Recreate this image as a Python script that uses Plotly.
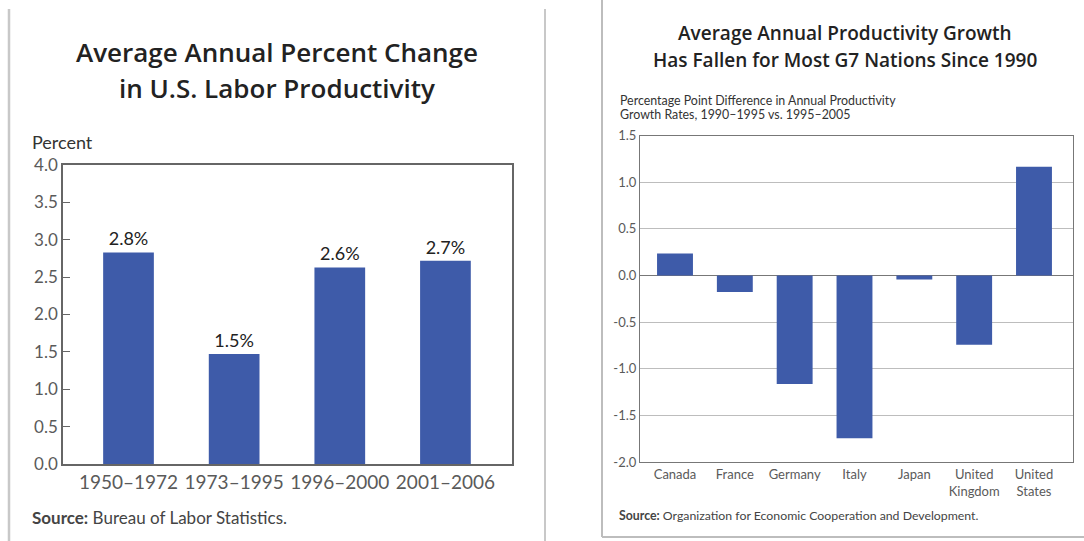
import plotly.graph_objects as go

# ---- Left chart data ----
periods = ["1950–1972", "1973–1995", "1996–2000", "2001–2006"]
us_productivity = [2.83, 1.47, 2.63, 2.72]
us_labels = ["2.8%", "1.5%", "2.6%", "2.7%"]
left_yticks = [0.0, 0.5, 1.0, 1.5, 2.0, 2.5, 3.0, 3.5, 4.0]

# ---- Right chart data ----
countries = ["Canada", "France", "Germany", "Italy", "Japan", "United<br>Kingdom", "United<br>States"]
growth_diff = [0.235, -0.178, -1.163, -1.745, -0.043, -0.742, 1.167]
right_yticks = [-2.0, -1.5, -1.0, -0.5, 0.0, 0.5, 1.0, 1.5]

W, H = 1084, 541
BAR = "#3e5ba9"
GRAY = "#5a5a5a"
FONT = "Lato"


def px(x):
    return x / W


def py(y):
    return 1 - y / H


fig = go.Figure()

fig.add_trace(go.Bar(
    x=list(range(len(periods))), y=us_productivity, width=0.48,
    marker=dict(color=BAR, line=dict(width=0)),
    text=us_labels, textposition="outside", cliponaxis=False,
    textfont=dict(family=FONT, size=18, color="#222"),
    xaxis="x", yaxis="y", showlegend=False, hoverinfo="skip"))

fig.add_trace(go.Bar(
    x=list(range(len(countries))), y=growth_diff, width=0.6,
    marker=dict(color=BAR, line=dict(width=0)),
    xaxis="x2", yaxis="y2", showlegend=False, hoverinfo="skip"))

fig.update_layout(
    template="none",
    width=W, height=H, margin=dict(l=0, r=0, t=0, b=0, pad=0),
    paper_bgcolor="white", plot_bgcolor="white",
    font=dict(family=FONT, color=GRAY),
    xaxis=dict(domain=[px(63), px(512)], anchor="y", range=[-0.62, 3.63],
               automargin=False,
               tickvals=list(range(len(periods))), ticktext=periods,
               showline=True, linecolor="#666", linewidth=1.5, mirror=True,
               ticks="", showgrid=False, zeroline=False,
               tickfont=dict(family=FONT, size=19, color=GRAY)),
    yaxis=dict(domain=[py(464), py(165)], anchor="x", range=[0, 4.0],
               automargin=False,
               tickvals=left_yticks, ticktext=[f"{v:.1f}" for v in left_yticks],
               showline=True, linecolor="#666", linewidth=1.5, mirror=True,
               ticks="inside", ticklen=7, tickcolor="#666", tickwidth=1,
               showgrid=False, zeroline=False,
               tickfont=dict(family=FONT, size=17, color=GRAY)),
    xaxis2=dict(domain=[px(640), px(1073)], anchor="y2", range=[-0.585, 6.652],
                automargin=False,
                tickvals=list(range(len(countries))), ticktext=countries,
                showline=True, linecolor="#777", linewidth=1.2, mirror=True,
                ticks="", showgrid=False, zeroline=False,
                tickfont=dict(family=FONT, size=13, color=GRAY)),
    yaxis2=dict(domain=[py(462), py(135.6)], anchor="x2", range=[-2.0, 1.5],
                automargin=False,
                tickvals=right_yticks, ticktext=[f"{v:.1f}" for v in right_yticks],
                showline=True, linecolor="#777", linewidth=1.2, mirror=True,
                ticks="", showgrid=True, gridcolor="#bdbdbd", gridwidth=1,
                zeroline=True, zerolinecolor="#777", zerolinewidth=1.2,
                tickfont=dict(family=FONT, size=13, color=GRAY)),
)

ann = []
# Left title
ann.append(dict(text="Average Annual Percent Change", x=px(277), y=py(52),
                font=dict(family="Open Sans", size=26, color="#222", weight=600)))
ann.append(dict(text="in U.S. Labor Productivity", x=px(277), y=py(88),
                font=dict(family="Open Sans", size=26, color="#222", weight=600)))
ann.append(dict(text="Percent", x=px(30), y=py(142), xanchor="left",
                font=dict(family=FONT, size=18, color="#333")))
ann.append(dict(text="<b>Source:</b> Bureau of Labor Statistics.", x=px(30), y=py(517),
                xanchor="left", font=dict(family=FONT, size=17, color="#444")))
# Right title
ann.append(dict(text="Average Annual Productivity Growth", x=px(845), y=py(33),
                font=dict(family="Open Sans", size=19, color="#222", weight=600)))
ann.append(dict(text="Has Fallen for Most G7 Nations Since 1990", x=px(845), y=py(60),
                font=dict(family="Open Sans", size=19, color="#222", weight=600)))
ann.append(dict(text="Percentage Point Difference in Annual Productivity", x=px(618), y=py(100),
                xanchor="left", font=dict(family=FONT, size=12.4, color="#333")))
ann.append(dict(text="Growth Rates, 1990–1995 vs. 1995–2005", x=px(618), y=py(114),
                xanchor="left", font=dict(family=FONT, size=12.4, color="#333")))
ann.append(dict(text="<b>Source:</b> Organization for Economic Cooperation and Development.",
                x=px(617), y=py(515), xanchor="left",
                font=dict(family=FONT, size=12.3, color="#444")))
for a in ann:
    a.setdefault("xanchor", "center")
    a.update(xref="paper", yref="paper", yanchor="middle", showarrow=False)
fig.update_layout(annotations=ann)

# Panel border lines
shapes = [
    dict(type="line", x0=px(9), x1=px(9), y0=py(9), y1=py(541),
         line=dict(color="#c8c8c8", width=2.5)),
    dict(type="line", x0=px(545), x1=px(545), y0=py(9), y1=py(541),
         line=dict(color="#c8c8c8", width=2)),
    dict(type="line", x0=px(602), x1=px(602), y0=py(0), y1=py(537),
         line=dict(color="#bdbdbd", width=2)),
    dict(type="line", x0=px(602), x1=px(1084), y0=py(537), y1=py(537),
         line=dict(color="#bdbdbd", width=2)),
]
for s in shapes:
    s.update(xref="paper", yref="paper")
fig.update_layout(shapes=shapes)

fig.write_html("out.html")
